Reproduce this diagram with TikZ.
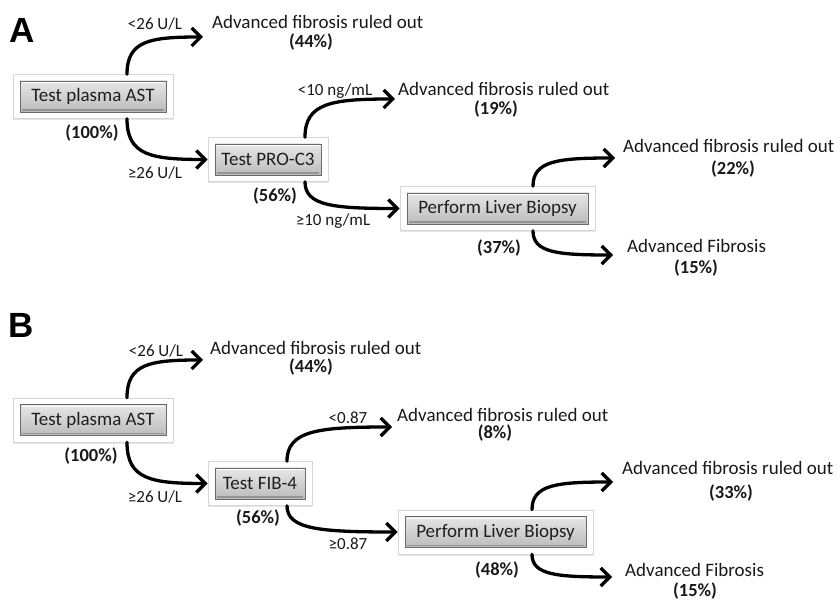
\documentclass[tikz,border=0pt]{standalone}
\usepackage{fontspec}
\setmainfont{Carlito}
\newfontfamily\panelfont{Liberation Sans}
\usetikzlibrary{arrows.meta,calc,shadows}
\begin{document}
\begin{tikzpicture}[x=1pt,y=-1pt,
  box/.style={rectangle, minimum height=44pt, inner sep=0pt, fill=white,
    draw=black!16, line width=0.7pt,
    font=\fontsize{19}{22}\selectfont, text=black!88,
    drop shadow={shadow xshift=0pt, shadow yshift=-1.8pt, opacity=0.2},
    path picture={
      \path[draw=black!58, line width=0.8pt, top color=black!6, bottom color=black!30]
        ([shift={(7pt,-6.5pt)}]path picture bounding box.north west) rectangle
        ([shift={(-7pt,6.5pt)}]path picture bounding box.south east);
      \draw[white, line width=1.2pt]
        ([shift={(8.6pt,-8.2pt)}]path picture bounding box.north west) --
        ([shift={(-8.6pt,-8.2pt)}]path picture bounding box.north east);
      \draw[black!42, line width=1.6pt]
        ([shift={(8.6pt,8.4pt)}]path picture bounding box.south west) --
        ([shift={(-8.6pt,8.4pt)}]path picture bounding box.south east);
    }},
  otext/.style={inner sep=0pt, font=\fontsize{19}{22}\selectfont, text=black!90},
  ptext/.style={inner sep=0pt, font=\fontsize{18.5}{22}\selectfont\bfseries, text=black!90},
  ltext/.style={inner sep=0pt, font=\fontsize{17}{20}\selectfont, text=black!90},
  paneltext/.style={inner sep=0pt, font=\panelfont\bfseries\fontsize{35}{40}\selectfont},
  arr/.style={line width=3.3pt, black, line cap=round, line join=round,
    -{Straight Barb[length=9pt,width=18pt]}},
  elbow/.style={to path={.. controls ($(\tikztostart)!0.9!(\tikztostart|-\tikztotarget)$)
    and ($(\tikztotarget)!0.7!(\tikztostart|-\tikztotarget)$) .. (\tikztotarget)}}
]
\useasboundingbox (0,0) rectangle (839,601);

% ---------------- Panel A ----------------
\node[paneltext, anchor=base west] (labA) at (9,43) {A};

\node[box, minimum width=160pt] (astA) at (93,96.5) {Test plasma AST};
\node[box, minimum width=120pt] (proA) at (268,159.5) {Test PRO-C3};
\node[box, minimum width=195pt] (bioA) at (497.5,208.5) {Perform Liver Biopsy};

\node[ptext, anchor=base] (pcA0) at (92,139) {(100\%)};
\node[ptext, anchor=base] (pcA1) at (275,202) {(56\%)};
\node[ptext, anchor=base] (pcA2) at (499,254) {(37\%)};

\node[ltext, anchor=base] (lA1) at (155,30) {<26 U/L};
\node[ltext, anchor=base] (lA2) at (155,179) {≥26 U/L};
\node[ltext, anchor=base] (lA3) at (335,96) {<10 ng/mL};
\node[ltext, anchor=base] (lA4) at (333,226) {≥10 ng/mL};

\node[otext, anchor=base west] (oA1) at (212,29) {Advanced fibrosis ruled out};
\node[ptext, anchor=base] (pA1) at (311,48) {(44\%)};
\node[otext, anchor=base west] (oA2) at (398,96) {Advanced fibrosis ruled out};
\node[ptext, anchor=base] (pA2) at (496,115) {(19\%)};
\node[otext, anchor=base west] (oA3) at (623,153) {Advanced fibrosis ruled out};
\node[ptext, anchor=base] (pA3) at (733,175) {(22\%)};
\node[otext, anchor=base west] (oA4) at (627,253) {Advanced Fibrosis};
\node[ptext, anchor=base] (pA4) at (696,274) {(15\%)};

\coordinate (sA1) at ([xshift=34pt]astA.north);
\coordinate (sA2) at ([xshift=34pt]astA.south);
\coordinate (sA3) at ([xshift=37pt]proA.north);
\coordinate (sA4) at ([xshift=37pt]proA.south);
\coordinate (sA5) at ([xshift=35.5pt]bioA.north);
\coordinate (sA6) at ([xshift=35.5pt]bioA.south);
\coordinate (tA1) at ([shift={(-9,8)}]oA1.base west);
\coordinate (tA3) at ([shift={(-3,3)}]oA2.base west);
\coordinate (tA5) at ([shift={(-8,5)}]oA3.base west);
\coordinate (tA6) at ([shift={(-14,2)}]oA4.base west);

\draw[arr] (sA1) to[elbow] (tA1);
\draw[arr] (sA2) to[elbow] (proA.west);
\draw[arr] (sA3) to[elbow] (tA3);
\draw[arr] (sA4) to[elbow] (bioA.west);
\draw[arr] (sA5) to[elbow] (tA5);
\draw[arr] (sA6) to[elbow] (tA6);

% ---------------- Panel B ----------------
\node[paneltext, anchor=base west] (labB) at (8,338) {B};

\node[box, minimum width=160pt] (astB) at (93,420) {Test plasma AST};
\node[box, minimum width=104pt] (fibB) at (260,483.5) {Test FIB-4};
\node[box, minimum width=195pt] (bioB) at (495.5,532) {Perform Liver Biopsy};

\node[ptext, anchor=base] (pcB0) at (91,462) {(100\%)};
\node[ptext, anchor=base] (pcB1) at (258,524) {(56\%)};
\node[ptext, anchor=base] (pcB2) at (497,576) {(48\%)};

\node[ltext, anchor=base] (lB1) at (156,357) {<26 U/L};
\node[ltext, anchor=base] (lB2) at (155,503) {≥26 U/L};
\node[ltext, anchor=base] (lB3) at (348,424) {<0.87};
\node[ltext, anchor=base] (lB4) at (348,550) {≥0.87};

\node[otext, anchor=base west] (oB1) at (210,355) {Advanced fibrosis ruled out};
\node[ptext, anchor=base] (pB1) at (311,373) {(44\%)};
\node[otext, anchor=base west] (oB2) at (397,422) {Advanced fibrosis ruled out};
\node[ptext, anchor=base] (pB2) at (495,439) {(8\%)};
\node[otext, anchor=base west] (oB3) at (622,475) {Advanced fibrosis ruled out};
\node[ptext, anchor=base] (pB3) at (731,499) {(33\%)};
\node[otext, anchor=base west] (oB4) at (625,577) {Advanced Fibrosis};
\node[ptext, anchor=base] (pB4) at (695,597) {(15\%)};

\coordinate (sB1) at ([xshift=34pt]astB.north);
\coordinate (sB2) at ([xshift=34pt]astB.south);
\coordinate (sB3) at ([xshift=27pt]fibB.north);
\coordinate (sB4) at ([xshift=27pt]fibB.south);
\coordinate (sB5) at ([xshift=36.5pt]bioB.north);
\coordinate (sB6) at ([xshift=36.5pt]bioB.south);
\coordinate (tB1) at ([shift={(-7,5)}]oB1.base west);
\coordinate (tB3) at ([shift={(-5,5)}]oB2.base west);
\coordinate (tB5) at ([shift={(-9,7)}]oB3.base west);
\coordinate (tB6) at ([shift={(-13,0)}]oB4.base west);

\draw[arr] (sB1) to[elbow] (tB1);
\draw[arr] (sB2) to[elbow] (fibB.west);
\draw[arr] (sB3) to[elbow] (tB3);
\draw[arr] (sB4) to[elbow] (bioB.west);
\draw[arr] (sB5) to[elbow] (tB5);
\draw[arr] (sB6) to[elbow] (tB6);
\end{tikzpicture}
\end{document}
